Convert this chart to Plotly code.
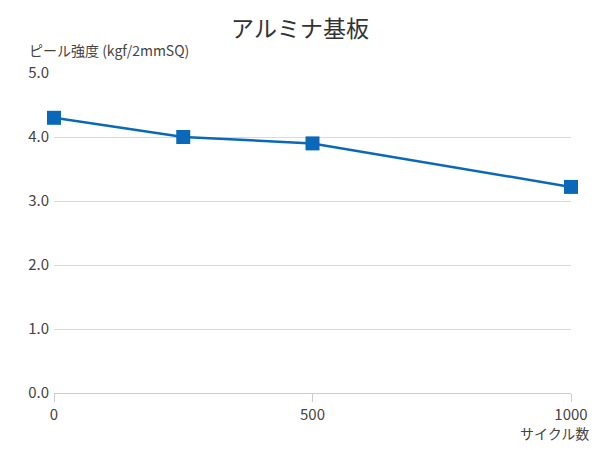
import plotly.graph_objects as go

cycles = [0, 250, 500, 1000]
peel_strength = [4.3, 4.0, 3.9, 3.22]
x_ticks = [0, 500, 1000]
y_ticks = [0.0, 1.0, 2.0, 3.0, 4.0, 5.0]

FONT = "Noto Sans CJK JP"
fig = go.Figure()
fig.add_trace(go.Scatter(
    x=cycles, y=peel_strength, mode="lines+markers",
    line=dict(color="#0a68b8", width=2.5),
    marker=dict(symbol="square", size=14, color="#0a68b8"),
    cliponaxis=False, showlegend=False,
))
fig.update_layout(
    width=600, height=450,
    margin=dict(l=54, r=26, t=73, b=57),
    paper_bgcolor="white", plot_bgcolor="white",
    font=dict(family=FONT, color="#444", size=14),
    title=dict(text="アルミナ基板", x=0.5, xanchor="center", y=0.935, yanchor="middle",
               font=dict(size=23, color="#333", family=FONT)),
    xaxis=dict(range=[0, 1000], tickvals=x_ticks, ticktext=[str(v) for v in x_ticks],
               showgrid=False, showline=True, linecolor="#cccccc", linewidth=1,
               ticks="outside", ticklen=8, tickcolor="#cccccc", zeroline=False,
               tickfont=dict(size=15, color="#444")),
    yaxis=dict(range=[0, 5], tickvals=y_ticks, ticktext=[f"{v:.1f}" for v in y_ticks],
               showgrid=True, gridcolor="#d9d9d9", gridwidth=1, zeroline=False,
               showline=False, ticks="", tickfont=dict(size=15, color="#444"),
               ticklabelstandoff=4),
    annotations=[
        dict(text="ピール強度 (kgf/2mmSQ)", xref="paper", yref="paper", x=-0.052, y=1.0,
             xanchor="left", yanchor="bottom", yshift=11, showarrow=False,
             font=dict(size=14, color="#444", family=FONT)),
        dict(text="サイクル数", xref="paper", yref="paper", x=1.0, y=0,
             xanchor="right", yanchor="top", xshift=20, yshift=-28, showarrow=False,
             font=dict(size=14, color="#444", family=FONT)),
    ],
)
fig.write_html("out.html")
